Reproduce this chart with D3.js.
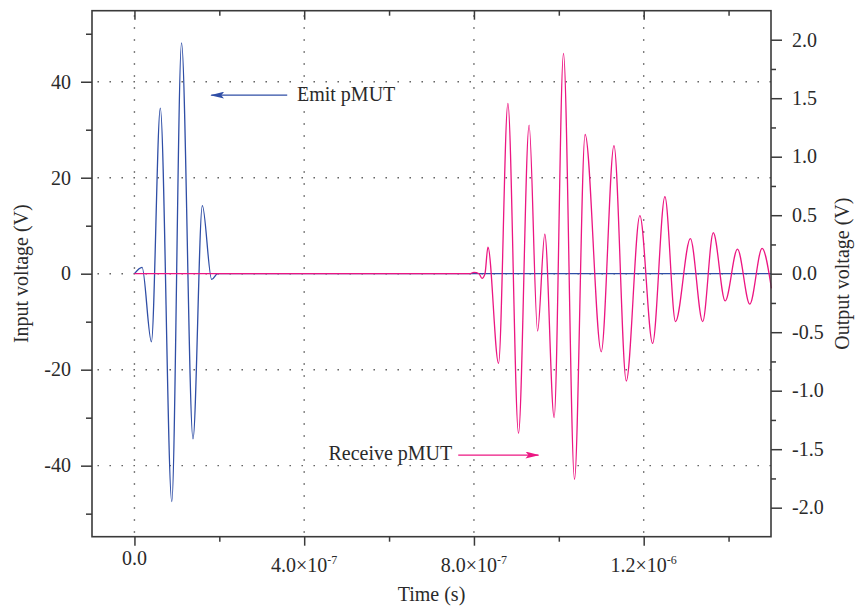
<!DOCTYPE html>
<html>
<head>
<meta charset="utf-8">
<script src="https://d3js.org/d3.v7.min.js"></script>
<style>
  * { margin: 0; padding: 0; }
  html, body { width: 857px; height: 607px; background: #fff; overflow: hidden; }
  text { font-family: 'Liberation Serif', 'DejaVu Serif', serif; fill: #2a2a2a; }
</style>
</head>
<body>
<svg id="chart" width="857" height="607"></svg>
<script>
// emit pMUT burst (input voltage, left axis) - time in ns
const emitTime = [0, 18, 40, 61, 88, 111, 138, 160, 182, 196, 1500];
const emitVolt = [0, 1.3, -14.2, 34.5, -47.5, 48.1, -34.4, 14.2, -1.2, 0, 0];

// receive pMUT signal (output voltage, right axis)
const recvTime = [0, 790, 800, 812, 819, 826, 833, 858, 880, 905, 930, 950, 967, 989,
  1011, 1037, 1062, 1100, 1130, 1159, 1191, 1221, 1250, 1275, 1310, 1339, 1364,
  1392, 1421, 1450, 1479, 1501];
const recvVolt = [0, 0, 0.012, 0, -0.04, 0, 0.226, -0.766, 1.456, -1.364, 1.27, -0.49, 0.337, -1.23,
  1.884, -1.757, 1.19, -0.667, 1.094, -0.917, 0.496, -0.595, 0.658, -0.41, 0.30, -0.41, 0.35,
  -0.233, 0.21, -0.26, 0.217, -0.125];

// axis ticks
const xTicks = [0, 4e-7, 8e-7, 1.2e-6];
const xMinor = [2e-7, 6e-7, 1e-6, 1.4e-6];
const xMant = ['0.0', '4.0×10', '8.0×10', '1.2×10'];
const xExp = ['', '-7', '-7', '-6'];
const leftTicks = [-40, -20, 0, 20, 40];
const leftMinor = [-50, -30, -10, 10, 30, 50];
const leftLabels = ['-40', '-20', '0', '20', '40'];
const rightTicks = [-2, -1.5, -1, -0.5, 0, 0.5, 1, 1.5, 2];
const rightMinor = [-1.75, -1.25, -0.75, -0.25, 0.25, 0.75, 1.25, 1.75];
const rightLabels = ['-2.0', '-1.5', '-1.0', '-0.5', '0.0', '0.5', '1.0', '1.5', '2.0'];

const W = 857, H = 607;
const m = { left: 92, right: 86, top: 10.7, bottom: 70.3 };
const innerW = W - m.left - m.right, innerH = H - m.top - m.bottom;

const blue = '#2f4ea6';
const pink = '#ec1682';
const axisColor = '#3a3a3a';

const svg = d3.select('#chart');
const g = svg.append('g').attr('transform', `translate(${m.left},${m.top})`);

const x = d3.scaleLinear().domain([-1e-7, 1.5e-6]).range([0, innerW]);
const yL = d3.scaleLinear().domain([-54.8, 54.8]).range([innerH, 0]);
const yR = d3.scaleLinear().domain([-2.248, 2.248]).range([innerH, 0]);

// dotted grid
g.append('g').selectAll('line').data(leftTicks).join('line')
  .attr('x1', 0).attr('x2', innerW)
  .attr('y1', d => yL(d)).attr('y2', d => yL(d))
  .attr('stroke', '#555').attr('stroke-width', 1.4)
  .attr('stroke-dasharray', '1.4 10.6').attr('stroke-dashoffset', -5.5);
g.append('g').selectAll('line').data(xTicks).join('line')
  .attr('x1', d => x(d)).attr('x2', d => x(d))
  .attr('y1', 0).attr('y2', innerH)
  .attr('stroke', '#555').attr('stroke-width', 1.4)
  .attr('stroke-dasharray', '1.4 10.6').attr('stroke-dashoffset', -4.6);

// signals
const emitData = emitTime.map((t, i) => [t * 1e-9, emitVolt[i]]);
const recvData = recvTime.map((t, i) => [t * 1e-9, recvVolt[i]]);

g.append('path').datum(emitData)
  .attr('fill', 'none').attr('stroke', blue).attr('stroke-width', 1.3)
  .attr('d', d3.line().x(d => x(d[0])).y(d => yL(d[1])).curve(d3.curveMonotoneX));
g.append('path').datum(recvData)
  .attr('fill', 'none').attr('stroke', pink).attr('stroke-width', 1.3)
  .attr('d', d3.line().x(d => x(d[0])).y(d => yR(d[1])).curve(d3.curveMonotoneX));

// axes
function styleAxis(sel) {
  sel.select('.domain').remove();
  sel.selectAll('line').attr('stroke', axisColor).attr('stroke-width', 1.5);
  sel.selectAll('text').remove();
}

const bottomAx = g.append('g').attr('transform', `translate(0,${innerH})`);
bottomAx.append('g').call(d3.axisBottom(x).tickValues(xTicks).tickSize(9)).call(styleAxis);
bottomAx.append('g').call(d3.axisBottom(x).tickValues(xMinor).tickSize(5)).call(styleAxis);
const topAx = g.append('g');
topAx.append('g').call(d3.axisBottom(x).tickValues(xTicks).tickSize(9)).call(styleAxis);
topAx.append('g').call(d3.axisBottom(x).tickValues(xMinor).tickSize(5)).call(styleAxis);

const leftAx = g.append('g');
leftAx.append('g').call(d3.axisLeft(yL).tickValues(leftTicks).tickSize(11)).call(styleAxis);
leftAx.append('g').call(d3.axisLeft(yL).tickValues(leftMinor).tickSize(6)).call(styleAxis);

const rightAx = g.append('g').attr('transform', `translate(${innerW},0)`);
rightAx.append('g').call(d3.axisRight(yR).tickValues(rightTicks).tickSize(11)).call(styleAxis);
rightAx.append('g').call(d3.axisRight(yR).tickValues(rightMinor).tickSize(5)).call(styleAxis);

// frame
g.append('rect').attr('width', innerW).attr('height', innerH)
  .attr('fill', 'none').attr('stroke', axisColor).attr('stroke-width', 1.6);

// tick labels
const xl = g.append('g').selectAll('text').data(xTicks).join('text')
  .attr('x', d => x(d))
  .attr('y', (d, i) => innerH + (xExp[i] ? 35.5 : 28.5))
  .attr('text-anchor', 'middle').attr('font-size', 20);
xl.append('tspan').text((d, i) => xMant[i]);
xl.filter((d, i) => xExp[i]).append('tspan')
  .attr('font-size', 12).attr('dy', -8).text(d => xExp[xTicks.indexOf(d)]);

g.append('g').selectAll('text').data(leftTicks).join('text')
  .attr('x', -21).attr('y', d => yL(d)).attr('dy', '0.34em')
  .attr('text-anchor', 'end').attr('font-size', 20)
  .text((d, i) => leftLabels[i]);

g.append('g').selectAll('text').data(rightTicks).join('text')
  .attr('x', innerW + 21).attr('y', d => yR(d)).attr('dy', '0.34em')
  .attr('text-anchor', 'start').attr('font-size', 20)
  .text((d, i) => rightLabels[i]);

// axis titles
svg.append('text').attr('x', m.left + innerW / 2).attr('y', 601)
  .attr('text-anchor', 'middle').attr('font-size', 20).text('Time (s)');
svg.append('text').attr('transform', `translate(28,${m.top + innerH / 2}) rotate(-90)`)
  .attr('text-anchor', 'middle').attr('font-size', 20).text('Input voltage (V)');
svg.append('text').attr('transform', `translate(849,${m.top + innerH / 2}) rotate(-90)`)
  .attr('text-anchor', 'middle').attr('font-size', 20).text('Output voltage (V)');

// annotations with arrows
const defs = svg.append('defs');
[['emitHead', blue], ['recvHead', pink]].forEach(([id, c]) => {
  defs.append('marker').attr('id', id)
    .attr('viewBox', '0 0 14 7').attr('refX', 13).attr('refY', 3.5)
    .attr('markerWidth', 14).attr('markerHeight', 7)
    .attr('markerUnits', 'userSpaceOnUse').attr('orient', 'auto')
    .append('path').attr('d', 'M0,0 L14,3.5 L0,7 L3,3.5 Z').attr('fill', c);
});

g.append('line')
  .attr('x1', x(3.6e-7)).attr('y1', yL(37.2))
  .attr('x2', x(1.81e-7)).attr('y2', yL(37.2))
  .attr('stroke', blue).attr('stroke-width', 1.3).attr('marker-end', 'url(#emitHead)');
g.append('text').attr('x', x(3.83e-7)).attr('y', yL(36.0))
  .attr('font-size', 20).text('Emit pMUT');

g.append('line')
  .attr('x1', x(7.63e-7)).attr('y1', yR(-1.55))
  .attr('x2', x(9.52e-7)).attr('y2', yR(-1.55))
  .attr('stroke', pink).attr('stroke-width', 1.3).attr('marker-end', 'url(#recvHead)');
g.append('text').attr('x', x(7.49e-7)).attr('y', yR(-1.59))
  .attr('text-anchor', 'end').attr('font-size', 20).text('Receive pMUT');
</script>
</body>
</html>
